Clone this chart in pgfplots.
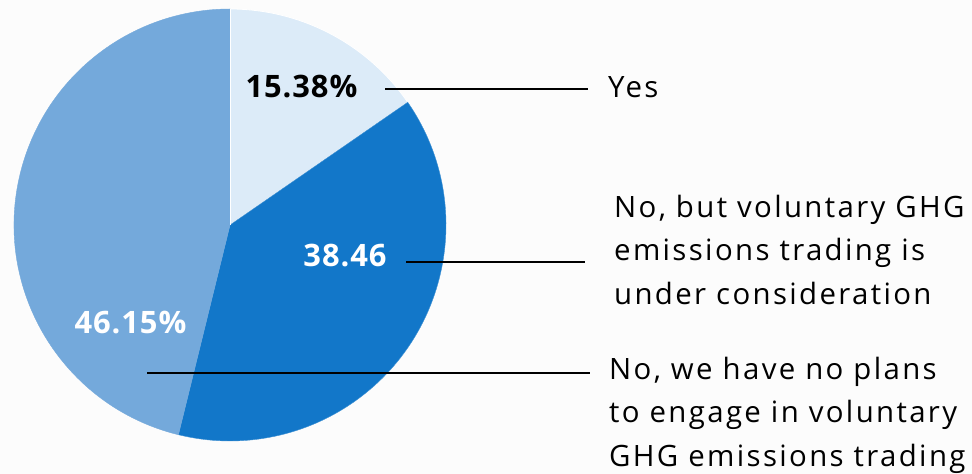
\documentclass[border=0pt]{standalone}
\usepackage{pgfplots}
\pgfplotsset{compat=1.18}
\usepackage{fontspec}
\setmainfont{Open Sans}
\newfontfamily\widefont{Open Sans}[LetterSpace=8]
\newfontfamily\numfont{Open Sans}[LetterSpace=3]
\definecolor{bgcol}{HTML}{FCFCFC}
\definecolor{yescol}{HTML}{DCEBF8}
\definecolor{midcol}{HTML}{1277C9}
\definecolor{lowcol}{HTML}{74A9DB}
\newcommand{\lab}{\widefont\fontsize{29.5}{43}\selectfont}
\newcommand{\pct}{\numfont\fontsize{31}{36}\selectfont}
\begin{document}
\begin{tikzpicture}
\begin{axis}[
  width=972bp, height=474bp, scale only axis,
  xmin=0, xmax=972, ymin=0, ymax=474,
  hide axis, clip=false]
  \fill[bgcol] (axis cs:0,0) rectangle (axis cs:972,474);
  % shares in percent: 15.38, 38.46, 46.15 ; start at top, clockwise
  \filldraw[fill=yescol, draw=white, line width=0.8bp]
    (axis cs:230,249) -- ++(90:216bp)
    arc[start angle=90, end angle={90-15.38*3.6}, radius=216bp] -- cycle;
  \filldraw[fill=midcol, draw=midcol!80!white, line width=0.4bp]
    (axis cs:230,249) -- ++({90-15.38*3.6}:216bp)
    arc[start angle={90-15.38*3.6}, end angle={90-(15.38+38.46)*3.6}, radius=216bp] -- cycle;
  \filldraw[fill=lowcol, draw=lowcol, line width=0.4bp]
    (axis cs:230,249) -- ++({90-(15.38+38.46)*3.6}:216bp)
    arc[start angle={90-(15.38+38.46)*3.6}, end angle=-270, radius=216bp] -- cycle;
  \draw[white, line width=0.8bp] (axis cs:230,249) -- ++(90:216bp);

  % value labels
  \node[font=\pct\bfseries, text=black] at (axis cs:301.5,387.5) {15.38\%};
  \node[font=\pct\bfseries, text=white] at (axis cs:345,218) {38.46};
  \node[font=\pct\bfseries, text=white] at (axis cs:130.5,151) {46.15\%};

  % leader lines
  \draw[black, line width=1.6bp] (axis cs:385,385) -- (axis cs:588,385);
  \draw[black, line width=1.6bp] (axis cs:406,212) -- (axis cs:585,212);
  \draw[black, line width=1.6bp] (axis cs:147,101) -- (axis cs:590,101);

  % category texts
  \node[font=\lab, anchor=base west, inner sep=0pt] at (axis cs:608,376) {Yes};
  \node[font=\lab, anchor=base west, inner sep=0pt] at (axis cs:614,256) {No, but voluntary GHG};
  \node[font=\lab, anchor=base west, inner sep=0pt] at (axis cs:614,213) {emissions trading is};
  \node[font=\lab, anchor=base west, inner sep=0pt] at (axis cs:614,169) {under consideration};
  \node[font=\lab, anchor=base west, inner sep=0pt] at (axis cs:609,94) {No, we have no plans};
  \node[font=\lab, anchor=base west, inner sep=0pt] at (axis cs:609,51) {to engage in voluntary};
  \node[font=\lab, anchor=base west, inner sep=0pt] at (axis cs:609,8) {GHG emissions trading};
\end{axis}
\pgfresetboundingbox
\useasboundingbox (current axis.south west) rectangle (current axis.north east);
\end{tikzpicture}
\end{document}
